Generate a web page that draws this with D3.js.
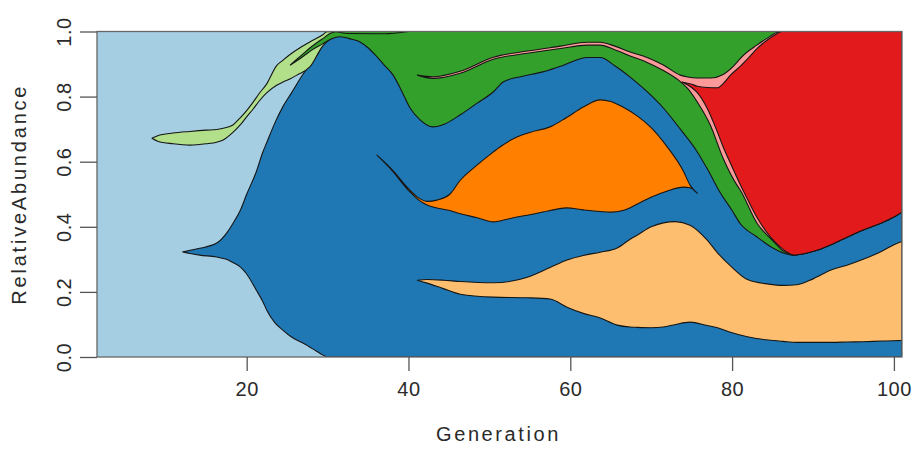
<!DOCTYPE html>
<html>
<head>
<meta charset="utf-8">
<script src="https://cdn.jsdelivr.net/npm/d3@7"></script>
<style>
  html, body { margin: 0; padding: 0; background: #ffffff; }
  svg { display: block; }
  text { font-family: "Liberation Sans", Arial, Helvetica, sans-serif; fill: #2a2a2a; }
</style>
</head>
<body>
<svg id="chart" width="914" height="451"></svg>
<script>
// ---- data: each row is [generation, lower bound, upper bound] of a genotype's band ----
const ancestor = [[1.5, 0, 1], [101, 0, 1]];

const darkBlue = [
  [12.1,.323,.323],[13,.318,.328],[14.2,.313,.334],[16.3,.307,.35],[17.5,.30,.38],
  [18.3,.29,.41],[19.2,.277,.45],[20,.255,.50],[21.2,.205,.57],[22,.17,.63],
  [22.5,.143,.66],[23.5,.105,.72],[24.5,.082,.77],[25.5,.062,.81],[27,.042,.87],
  [28.5,.02,.92],[29.5,.005,.96],[30,0,.975],[30.5,0,.985],[31.5,0,1],[101,0,1]
];

const lightGreen = [
  [8.3,.672,.672],[9,.663,.68],[10.9,.655,.688],[13,.651,.693],[15,.655,.697],
  [16.3,.66,.699],[17.1,.667,.703],[18.3,.69,.713],[19.2,.713,.735],[20,.738,.757],
  [20.8,.762,.783],[21.5,.785,.808],[22.5,.812,.84],[23.7,.835,.895],[24.5,.845,.912],
  [25.4,.855,.93],[26.2,.866,.944],[27.8,.891,.968],[29.4,.955,.99],[29.9,.968,.999],
  [31,.985,1],[32,.992,1],[33,.998,1]
];

const green = [
  [25.4,.897,.897],[26.2,.91,.915],[27,.924,.932],[28,.942,.953],[29.4,.962,.978],
  [30.5,.978,.996],[31.5,.984,1],[33,.976,1],[34,.968,1],[35,.95,1],[36,.925,1],
  [37,.897,1],[38.1,.866,1],[39,.825,1],[40.2,.765,1],[41.5,.727,1],[43,.707,1],
  [44.5,.716,1],[46.4,.744,1],[48.5,.78,1],[50.5,.815,1],[51.7,.845,1],[54,.862,1],
  [56.6,.876,1],[59,.895,1],[62.1,.92,1],[63.7,.92,1],[65.5,.895,1],[67.4,.86,1],
  [69.5,.815,1],[71.5,.765,1],[73.6,.70,1],[75.7,.63,1],[77,.575,1],[78.5,.506,1],
  [80,.45,1],[81,.41,1],[83,.37,1],[85.1,.334,1],[86.5,.318,1],[87.6,.313,1],
  [89,.318,1],[90.5,.328,1],[92.5,.348,1],[94.2,.368,1],[96.2,.39,1],[98.3,.41,1],
  [100,.43,1],[101,.445,1]
];

const darkGreen = [[31,1,1],[32.5,.994,1],[37,.993,1],[40,1,1]];

const orange = [
  [36.1,.62,.62],[38,.572,.575],[40,.512,.517],[41.5,.478,.485],[42.3,.467,.478],
  [43.5,.458,.482],[45.1,.45,.50],[46.4,.44,.543],[48.5,.428,.59],[50.5,.415,.63],
  [51.3,.418,.645],[53.4,.43,.676],[55,.437,.69],[57.5,.45,.707],[59.5,.458,.735],
  [61.6,.452,.768],[63.7,.447,.79],[65,.445,.785],[66.5,.45,.768],[68.3,.47,.74],
  [69.9,.49,.707],[72,.51,.645],[74,.522,.57],[74.8,.52,.528],[75.7,.503,.503]
];

const lightOrange = [
  [41.1,.236,.236],[42.3,.227,.238],[44.3,.21,.236],[46.4,.193,.232],[50.5,.184,.228],
  [54.7,.182,.245],[57.5,.178,.275],[59.6,.153,.298],[61.6,.134,.312],[63.7,.12,.322],
  [65.8,.098,.335],[67.4,.092,.362],[68.3,.091,.375],[70,.09,.40],[71.5,.092,.412],
  [73,.1,.416],[74.8,.107,.405],[76.9,.097,.36],[78.2,.09,.32],[79.8,.076,.28],
  [81.9,.062,.238],[84.5,.052,.224],[86.3,.048,.22],[88,.045,.222],[90,.045,.24],
  [92.3,.045,.268],[94.2,.046,.282],[96.2,.047,.30],[98.5,.049,.325],[100,.05,.345],
  [101,.051,.355]
];

const pink = [
  [41.1,.866,.866],[43,.856,.861],[46.4,.872,.878],[50.5,.915,.921],[54.7,.933,.94],
  [58.8,.948,.955],[62.1,.958,.967],[63.7,.958,.967],[65.5,.944,.955],[67.4,.925,.937],
  [69.5,.905,.92],[71.5,.88,.897],[73.6,.846,.866],[74.5,.825,.86],[75.7,.783,.857],
  [77.3,.713,.857],[78.9,.61,.868],[80.6,.528,.905],[81,.513,.917],[83.1,.41,.959],
  [84.7,.365,.985],[85.5,.345,.997],[86.2,.328,1],[86.8,.319,1],[87.6,.313,1],
  [89,.318,1],[90.5,.328,1],[92.5,.348,1],[94.2,.368,1],[96.2,.39,1],[98.3,.41,1],
  [100,.43,1],[101,.445,1]
];

const red = [
  [73.8,.845,.845],[75,.828,.838],[75.7,.812,.832],[76.9,.765,.828],[78.2,.69,.827],
  [78.9,.645,.84],[79.8,.595,.866],[81,.53,.893],[82,.48,.918],[83.1,.428,.948],
  [84.7,.37,.98],[85.6,.346,.994],[86.2,.333,1],[86.8,.322,1],[87.6,.313,1],
  [89,.318,1],[90.5,.328,1],[92.5,.348,1],[94.2,.368,1],[96.2,.39,1],[98.3,.41,1],
  [100,.43,1],[101,.445,1]
];

const xTicks = [20, 40, 60, 80, 100];
const yTicks = [0, 0.2, 0.4, 0.6, 0.8, 1.0];
const xTitle = "Generation";
const yTitle = "RelativeAbundance";

// drawing order and colours (bottom to top)
const bands = [
  { data: darkBlue,    color: "#1F78B4" },
  { data: lightGreen,  color: "#B2DF8A" },
  { data: green,       color: "#33A02C" },
  { data: darkGreen,   color: "#33A02C" },
  { data: orange,      color: "#FF7F00" },
  { data: lightOrange, color: "#FDBF6F" },
  { data: pink,        color: "#FB9A99" },
  { data: red,         color: "#E31A1C" }
];

// ---- layout ----
const pLeft = 97, pRight = 902, pTop = 31.5, pBottom = 357;
const svg = d3.select("#chart");
const x = d3.scaleLinear().domain([1.5, 101]).range([pLeft, pRight]);
const y = d3.scaleLinear().domain([0, 1]).range([pBottom, pTop]);

svg.append("defs").append("clipPath").attr("id", "plotclip")
  .append("rect").attr("x", pLeft).attr("y", pTop)
  .attr("width", pRight - pLeft).attr("height", pBottom - pTop);

const plot = svg.append("g").attr("clip-path", "url(#plotclip)");

const area = d3.area()
  .x(d => x(d[0]))
  .y0(d => y(d[1]))
  .y1(d => y(d[2]))
  .curve(d3.curveMonotoneX);

plot.append("path").datum(ancestor).attr("d", area).attr("fill", "#A6CEE3");

bands.forEach(b => {
  plot.append("path").datum(b.data)
    .attr("d", area)
    .attr("fill", b.color)
    .attr("stroke", "#151515")
    .attr("stroke-width", 1.1)
    .attr("stroke-linejoin", "round");
});

// box
svg.append("rect").attr("x", pLeft).attr("y", pTop)
  .attr("width", pRight - pLeft).attr("height", pBottom - pTop)
  .attr("fill", "none").attr("stroke", "#666").attr("stroke-width", 1.3);

// x axis
const xAxis = svg.append("g").attr("transform", `translate(0,${pBottom})`)
  .call(d3.axisBottom(x).tickValues(xTicks).tickSize(14).tickSizeOuter(0));
xAxis.select(".domain").remove();
xAxis.selectAll("line").attr("stroke", "#555").attr("stroke-width", 1.3);
xAxis.selectAll("text")
  .attr("y", 396 - pBottom).attr("dy", 0)
  .style("font-size", "20px").style("letter-spacing", "0.5px")
  .style("font-family", "'Liberation Sans', Arial, sans-serif")
  .attr("fill", "#2a2a2a");

// y axis
const yAxis = svg.append("g").attr("transform", `translate(${pLeft},0)`)
  .call(d3.axisLeft(y).tickValues(yTicks).tickSize(17).tickSizeOuter(0).tickFormat(d3.format(".1f")));
yAxis.select(".domain").remove();
yAxis.selectAll("line").attr("stroke", "#555").attr("stroke-width", 1.3);
yAxis.selectAll("text").remove();
yAxis.selectAll(".tick").append("text")
  .attr("transform", `translate(${71 - pLeft},0) rotate(-90)`)
  .attr("text-anchor", "middle")
  .style("font-size", "20px").style("letter-spacing", "0.5px")
  .style("font-family", "'Liberation Sans', Arial, sans-serif")
  .attr("fill", "#2a2a2a")
  .text(d => d3.format(".1f")(d));

// titles
svg.append("text")
  .attr("x", (pLeft + pRight) / 2 - 1).attr("y", 441)
  .attr("text-anchor", "middle")
  .style("font-size", "20px").style("letter-spacing", "2.6px")
  .text(xTitle);

svg.append("text")
  .attr("transform", `translate(26,${(pTop + pBottom) / 2}) rotate(-90)`)
  .attr("text-anchor", "middle")
  .style("font-size", "20px").style("letter-spacing", "2.8px")
  .text(yTitle);
</script>
</body>
</html>
